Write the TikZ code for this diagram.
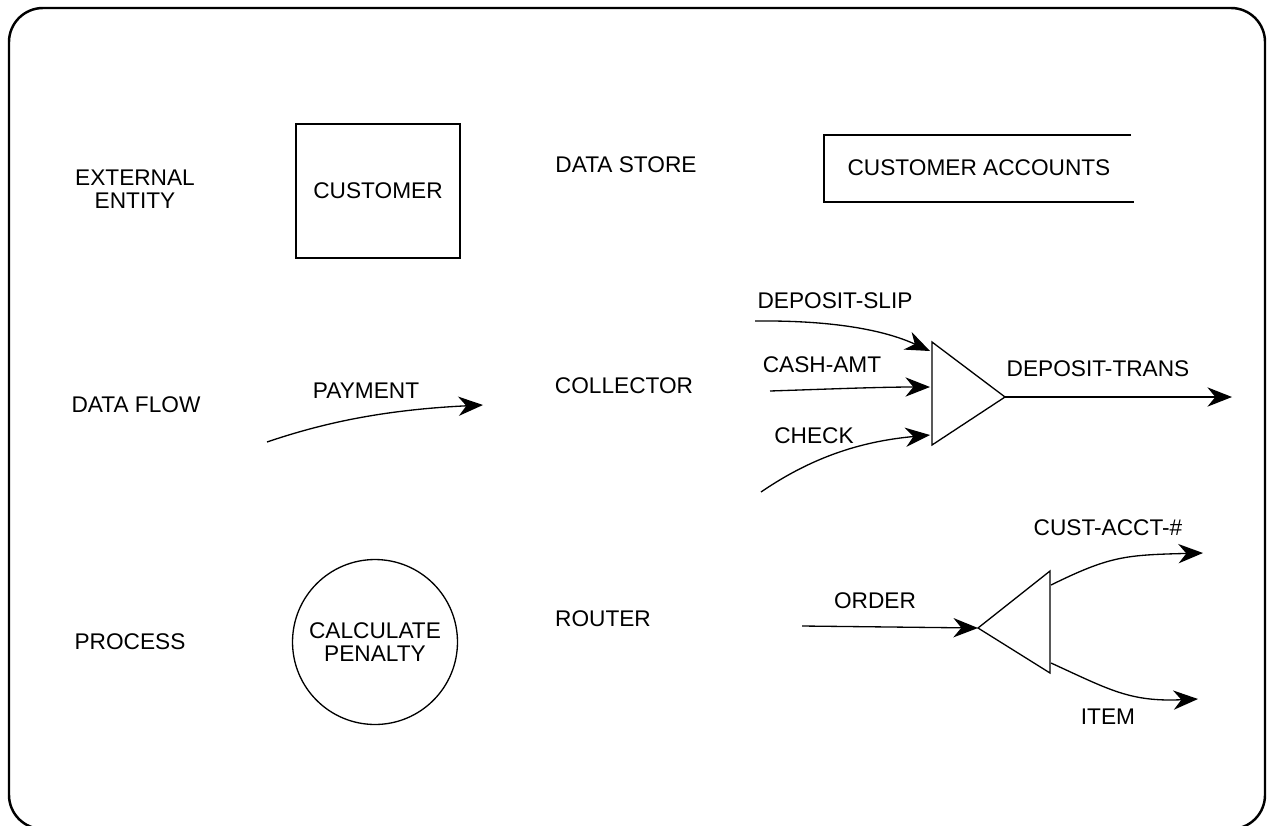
\documentclass[tikz,border=0pt]{standalone}
\usepackage{fontspec}
\setmainfont{Liberation Sans}
\usetikzlibrary{arrows.meta}
\begin{document}
\begin{tikzpicture}[x=0.02cm,y=-0.02cm,line width=0.75pt,
    every node/.style={font=\fontsize{12.9}{13.1}\selectfont,align=center},
    flow/.style={-{Stealth[length=14pt,width=11pt,inset=4.5pt]}}]
  % Marco: columna de nombres a la izquierda, símbolo y ejemplo a la derecha
  \useasboundingbox (0,0) rectangle (1267,825);
  \draw[line width=1.4pt,rounded corners=0.68cm] (9,8) rectangle (1265,829);
  \node (lblEntity)    at (135,189) {EXTERNAL\\ENTITY};
  \node (lblFlow)      at (136,405) {DATA FLOW};
  \node (lblProcess)   at (130,642) {PROCESS};
  \node (lblStore)     at (626,165) {DATA STORE};
  \node (lblCollector) at (624,386) {COLLECTOR};
  \node (lblRouter)    at (603,619) {ROUTER};

  % Entidad, almacén y proceso
  \node[draw,minimum width=3.28cm,minimum height=2.68cm] (customer) at (378,191) {CUSTOMER};
  \draw (1131,135) -- (824,135) -- (824,202) -- (1134,202);
  \node (accounts) at (979,168) {CUSTOMER ACCOUNTS};
  \node[draw,circle,minimum size=3.3cm,inner sep=0pt] (penalty) at (375,642) {CALCULATE\\PENALTY};

  % Flujo simple
  \coordinate (payA) at (267,442);
  \coordinate (payB) at (483,405);
  \draw[flow] (payA) .. controls (320,424) and (380,410) .. (payB);
  \node (payment) at (366,391) {PAYMENT};

  % Colector: tres flujos entran, uno sale
  \coordinate (colTop) at (932,342);
  \coordinate (colBot) at (932,445);
  \coordinate (colTip) at (1005,397);
  \draw (colTop) -- (colBot) -- (colTip) -- cycle;
  \coordinate (slipA) at (755,321);  \coordinate (slipB) at (930,351);
  \coordinate (cashA) at (770,391);  \coordinate (cashB) at (930,387);
  \coordinate (checkA) at (761,492); \coordinate (checkB) at (930,435);
  \coordinate (transB) at (1232,397);
  \draw[flow] (slipA) .. controls (850,320) and (895,335) .. (slipB);
  \draw[flow] (cashA) .. controls (830,389) and (880,387) .. (cashB);
  \draw[flow] (checkA) .. controls (815,455) and (865,441) .. (checkB);
  \draw[flow] (colTip) -- (transB);
  \node (slip)  at (835,301) {DEPOSIT-SLIP};
  \node (cash)  at (822,365) {CASH-AMT};
  \node (check) at (814,436) {CHECK};
  \node (trans) at (1098,369) {DEPOSIT-TRANS};

  % Enrutador: un flujo entra, dos salen
  \coordinate (rutTip) at (978,628);
  \coordinate (rutTop) at (1050,571);
  \coordinate (rutBot) at (1050,673);
  \draw (rutTip) -- (rutTop) -- (rutBot) -- cycle;
  \coordinate (orderA) at (802,626);
  \coordinate (acctA) at (1051,585); \coordinate (acctB) at (1203,553);
  \coordinate (itemA) at (1051,663); \coordinate (itemB) at (1198,699);
  \draw[flow] (orderA) -- (rutTip);
  \draw[flow] (acctA) .. controls (1110,556) and (1125,555) .. (acctB);
  \draw[flow] (itemA) .. controls (1110,690) and (1130,702) .. (itemB);
  \node (order) at (875,601) {ORDER};
  \node (acct)  at (1108,528) {CUST-ACCT-\#};
  \node (item)  at (1108,717) {ITEM};
\end{tikzpicture}
\end{document}
